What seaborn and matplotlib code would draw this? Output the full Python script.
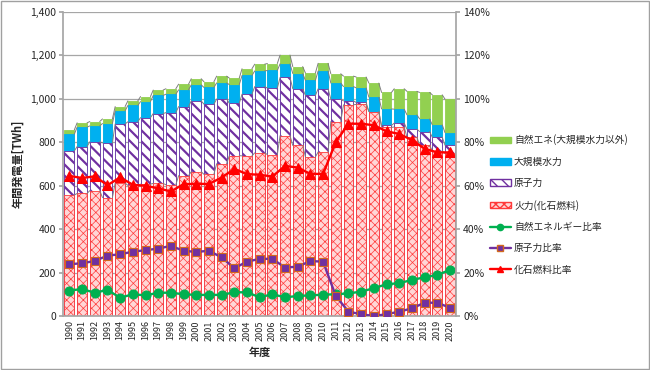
"""Japan annual electricity generation by source, with source-share lines."""

import matplotlib

matplotlib.use("Agg")
import matplotlib.pyplot as plt
import numpy as np
import pandas as pd
import seaborn as sns
from matplotlib.lines import Line2D
from matplotlib.patches import Patch, Rectangle
from matplotlib.ticker import FuncFormatter, MultipleLocator

# --------------------------------------------------------------------------- #
# Data (TWh and %)
# --------------------------------------------------------------------------- #

years = list(range(1990, 2021))

fossil = [557, 564, 577, 545, 612, 601, 607, 610, 604, 646, 664, 652, 701, 738, 737,
          751, 743, 830, 785, 732, 755, 895, 972, 974, 941, 868, 870, 824, 786, 761, 748]
nuclear = [203, 216, 225, 252, 272, 293, 306, 322, 332, 318, 326, 323, 298, 241, 284,
           305, 306, 268, 261, 283, 291, 103, 18, 9, 0, 9, 18, 36, 63, 62, 38]
hydro = [77, 89, 73, 89, 60, 75, 74, 83, 85, 77, 74, 77, 74, 86, 86,
         72, 81, 63, 70, 69, 82, 74, 66, 67, 66, 76, 64, 66, 58, 57, 58]
renewable = [20, 20, 20, 21, 20, 21, 23, 25, 25, 26, 28, 26, 31, 30, 31,
             31, 32, 40, 32, 34, 35, 43, 48, 50, 65, 76, 94, 108, 122, 138, 154]

renewable_ratio = [11.7, 12.4, 10.7, 12.0, 8.4, 10.0, 9.5, 10.7, 10.7, 10.0, 9.7, 9.7,
                   9.7, 10.9, 10.9, 8.6, 10.0, 8.6, 9.2, 9.5, 9.8, 10.0, 10.4, 11.2,
                   12.8, 14.6, 15.1, 16.6, 17.8, 18.9, 21.2]
nuclear_ratio = [23.8, 24.3, 25.3, 27.8, 28.4, 29.6, 30.3, 31.0, 32.3, 30.0, 29.5, 30.0,
                 27.0, 22.0, 25.0, 26.3, 26.3, 22.3, 22.7, 25.3, 25.0, 9.2, 2.0, 0.8,
                 0.0, 0.8, 2.0, 3.5, 6.1, 6.1, 3.8]
fossil_ratio = [64.5, 63.5, 64.3, 60.2, 63.8, 60.4, 59.9, 58.8, 57.3, 60.7, 60.8, 60.8,
                63.7, 67.7, 65.3, 65.0, 64.2, 69.1, 68.3, 65.4, 65.4, 80.1, 88.5, 88.5,
                87.8, 85.0, 83.8, 81.0, 77.0, 75.3, 75.3]

labels = {
    "renewable": "自然エネ(大規模水力以外)",
    "hydro": "大規模水力",
    "nuclear": "原子力",
    "fossil": "火力(化石燃料)",
    "renewable_ratio": "自然エネルギー比率",
    "nuclear_ratio": "原子力比率",
    "fossil_ratio": "化石燃料比率",
}

GREEN = "#92D050"
BLUE = "#00B0F0"
PURPLE = "#7030A0"
RED = "#FF3A3A"
RED_FACE = "#FFD6D6"
LINE_GREEN = "#00B050"
GRID = "#A6A6A6"
FOSSIL_HATCH = "xxxx"
NUCLEAR_HATCH = "\\\\\\"

# --------------------------------------------------------------------------- #
# Figure
# --------------------------------------------------------------------------- #

sns.set_theme(style="white")
plt.rcParams["font.family"] = ["Noto Sans CJK JP", "DejaVu Sans"]

df = pd.DataFrame({"year": [str(y) for y in years]})
df["fossil_top"] = np.array(fossil)
df["nuclear_top"] = df["fossil_top"] + np.array(nuclear)
df["hydro_top"] = df["nuclear_top"] + np.array(hydro)
df["total"] = df["hydro_top"] + np.array(renewable)

fig = plt.figure(figsize=(6.5, 3.7), dpi=100)
ax = fig.add_axes([0.097, 0.146, 0.605, 0.822])

bar_width = 0.78
# Cumulative heights drawn from the top down, each layer covering the previous one.
layers = [
    ("total", GREEN, GREEN, None, 1.0),
    ("hydro_top", BLUE, BLUE, None, 1.0),
    ("nuclear_top", "white", PURPLE, NUCLEAR_HATCH, 1.6),
    ("fossil_top", RED_FACE, RED, FOSSIL_HATCH, 0.5),
]
for col, face, edge, hatch, hlw in layers:
    with plt.rc_context({"hatch.linewidth": hlw}):
        sns.barplot(data=df, x="year", y=col, color=face, saturation=1, width=bar_width,
                    edgecolor=edge, hatch=hatch, linewidth=0.6, errorbar=None, ax=ax)

# Excel-style series lines joining the tops of neighbouring bars
half = bar_width / 2
for col in ("total", "hydro_top", "nuclear_top", "fossil_top"):
    tops = df[col].to_numpy()
    xs, ys = [], []
    for i in range(len(tops) - 1):
        xs += [i + half, i + 1 - half, np.nan]
        ys += [tops[i], tops[i + 1], np.nan]
    ax.plot(xs, ys, color="#7F7F7F", lw=0.7, zorder=3)

ax.set_xlim(-0.5, len(years) - 0.5)
ax.set_ylim(0, 1400)
ax.yaxis.set_major_locator(MultipleLocator(200))
ax.yaxis.set_major_formatter(FuncFormatter(lambda v, _: f"{v:,.0f}"))
ax.yaxis.grid(True, color=GRID, lw=0.9)
ax.set_axisbelow(True)
ax.set_xlabel("年度", fontsize=8, fontweight="bold", labelpad=4)
ax.set_ylabel("年間発電量[TWh]", fontsize=8, fontweight="bold", labelpad=4)
ax.tick_params(axis="x", labelrotation=90, labelsize=6.5, length=0, pad=3)
ax.tick_params(axis="y", labelsize=7.5, length=3, color=GRID, direction="out", left=True, pad=2)
for side in ("top", "right"):
    ax.spines[side].set_visible(False)
for side in ("left", "bottom"):
    ax.spines[side].set_color(GRID)

# Ratio lines on the right-hand axis
ax2 = ax.twinx()
x = np.arange(len(years))
sns.lineplot(x=x, y=renewable_ratio, ax=ax2, color=LINE_GREEN, lw=1.7, marker="o",
             markersize=6.5, markeredgecolor=LINE_GREEN)
sns.lineplot(x=x, y=nuclear_ratio, ax=ax2, color=PURPLE, lw=1.7, marker="s",
             markersize=6, markeredgecolor="#D2691E", markeredgewidth=0.8)
sns.lineplot(x=x, y=fossil_ratio, ax=ax2, color="#FF0000", lw=1.7, marker="^",
             markersize=6.5, markeredgecolor="#FF0000")
ax2.set_ylim(0, 140)
ax2.set_xlim(-0.5, len(years) - 0.5)
ax2.yaxis.set_major_locator(MultipleLocator(20))
ax2.yaxis.set_major_formatter(FuncFormatter(lambda v, _: f"{v:.0f}%"))
ax2.tick_params(axis="y", labelsize=7.5, length=3, color=GRID, direction="out", right=True, pad=2)
for side in ("top", "left", "bottom"):
    ax2.spines[side].set_visible(False)
ax2.spines["right"].set_color(GRID)

# Legend
handles = [
    Patch(facecolor=GREEN, edgecolor=GREEN, label=labels["renewable"]),
    Patch(facecolor=BLUE, edgecolor=BLUE, label=labels["hydro"]),
    Patch(facecolor="white", edgecolor=PURPLE, hatch=NUCLEAR_HATCH, label=labels["nuclear"]),
    Patch(facecolor=RED_FACE, edgecolor=RED, hatch=FOSSIL_HATCH, label=labels["fossil"]),
    Line2D([], [], color=LINE_GREEN, lw=1.7, marker="o", markersize=4.5,
           label=labels["renewable_ratio"]),
    Line2D([], [], color=PURPLE, lw=1.7, marker="s", markersize=4,
           markeredgecolor="#D2691E", label=labels["nuclear_ratio"]),
    Line2D([], [], color="#FF0000", lw=1.7, marker="^", markersize=4.5,
           label=labels["fossil_ratio"]),
]
fig.legend(handles=handles, loc="upper left", bbox_to_anchor=(0.74, 0.66),
           frameon=False, fontsize=7, handlelength=2.2, handleheight=0.7,
           handletextpad=0.3, labelspacing=1.17)

# Chart-area border
fig.patches.append(Rectangle((0.0015, 0.0027), 0.997, 0.9946, transform=fig.transFigure,
                             fill=False, edgecolor="#A0A0A0", lw=1))

fig.savefig("out.png", dpi=100)
plt.close(fig)
